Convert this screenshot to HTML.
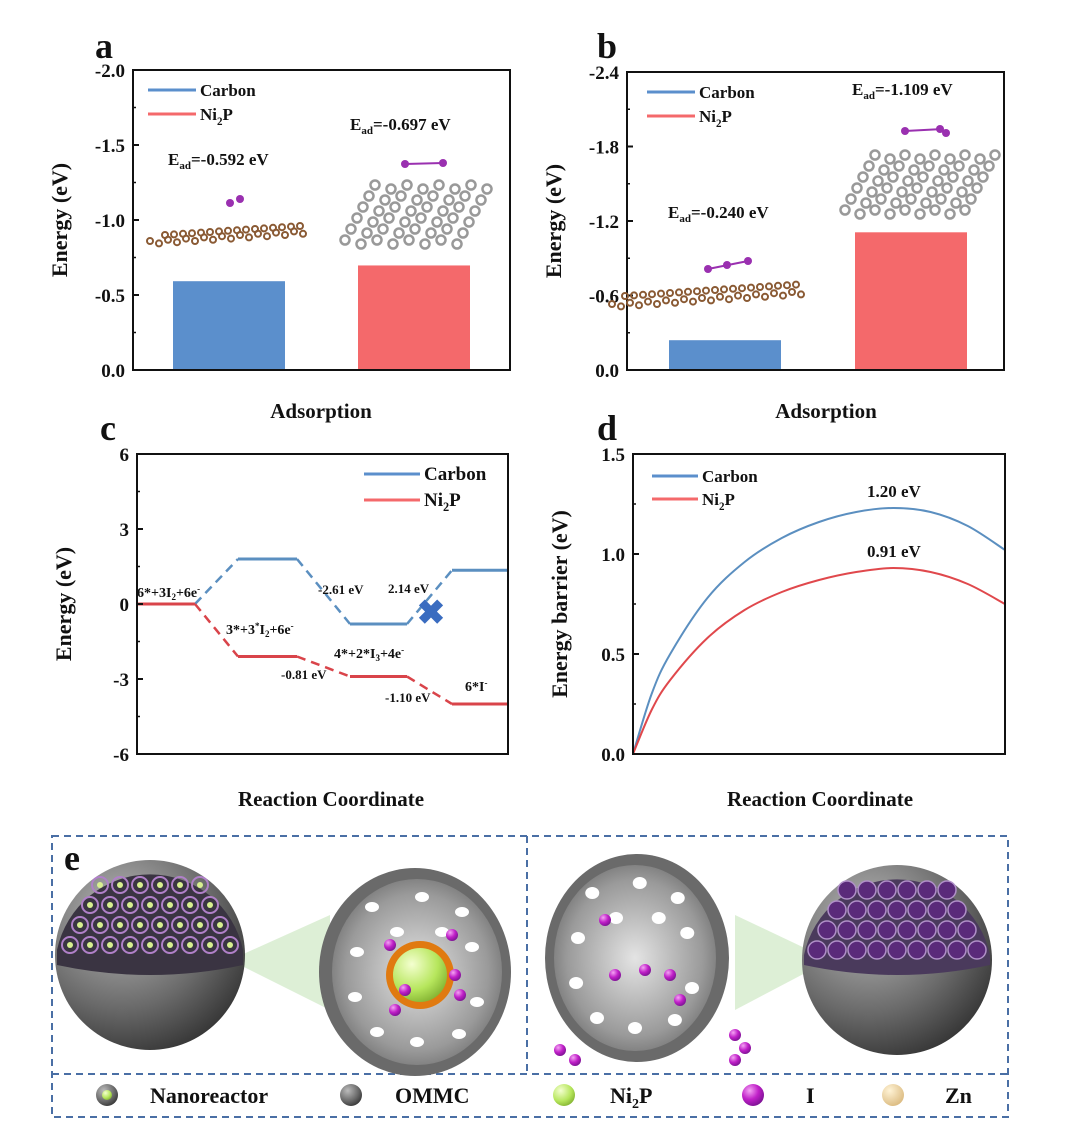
<!DOCTYPE html>
<html><head><meta charset="utf-8"><style>
html,body{margin:0;padding:0;background:#fff}
svg{display:block}
text{font-family:"Liberation Serif",serif;font-weight:bold;fill:#111}
</style></head><body>
<svg id="fig" width="1080" height="1142" viewBox="0 0 1080 1142" xmlns="http://www.w3.org/2000/svg">
<defs>
<radialGradient id="gs" cx="0.35" cy="0.3" r="0.8"><stop offset="0" stop-color="#bbb"/><stop offset="0.6" stop-color="#6a6a6a"/><stop offset="1" stop-color="#2e2e2e"/></radialGradient>
<radialGradient id="gh" cx="0.5" cy="0.5" r="0.6"><stop offset="0" stop-color="#e4e4e4"/><stop offset="0.7" stop-color="#9a9a9a"/><stop offset="1" stop-color="#666"/></radialGradient>
<radialGradient id="gp" cx="0.35" cy="0.3" r="0.8"><stop offset="0" stop-color="#f4a4f4"/><stop offset="0.5" stop-color="#c020c8"/><stop offset="1" stop-color="#70108a"/></radialGradient>
<radialGradient id="gg" cx="0.35" cy="0.3" r="0.8"><stop offset="0" stop-color="#f4ffd0"/><stop offset="0.6" stop-color="#b6e65c"/><stop offset="1" stop-color="#7cab2c"/></radialGradient>
<radialGradient id="gz" cx="0.35" cy="0.3" r="0.8"><stop offset="0" stop-color="#fff3d6"/><stop offset="1" stop-color="#d9b77a"/></radialGradient>
</defs>
<g id="pa"></g>
<g id="pb"></g>
<g id="pc"></g>
<g id="pd"></g>

<g>
<text x="64" y="870" font-size="36">e</text>
<rect x="52" y="836" width="956" height="281" fill="none" stroke="#4a6fa5" stroke-width="2" stroke-dasharray="7,5"/>
<line x1="527" y1="836" x2="527" y2="1075" stroke="#4a6fa5" stroke-width="2" stroke-dasharray="7,5"/>
<line x1="52" y1="1074" x2="1008" y2="1074" stroke="#4a6fa5" stroke-width="2" stroke-dasharray="7,5"/>
<polygon points="230,960 330,915 330,1010" fill="#cfe8c4" opacity="0.7"/>
<polygon points="830,960 735,915 735,1010" fill="#cfe8c4" opacity="0.7"/>
<g>
<circle cx="150" cy="955" r="95" fill="url(#gs)"/>
<path d="M57,950 A95,95 0 0 1 243,950 L243,965 Q150,985 57,965 Z" fill="#3a3442"/>
<g id="dotsL"></g>
</g>
<g>
<ellipse cx="415" cy="972" rx="96" ry="104" fill="#6a6a6a"/>
<ellipse cx="417" cy="972" rx="85" ry="93" fill="url(#gh)"/>
<g id="holesL"></g>
<circle cx="420" cy="975" r="34" fill="#e07a10"/>
<circle cx="420" cy="975" r="27" fill="url(#gg)"/>
</g>
<g>
<ellipse cx="637" cy="958" rx="92" ry="104" fill="#6a6a6a"/>
<ellipse cx="635" cy="958" rx="81" ry="93" fill="url(#gh)"/>
<g id="holesR"></g>
</g>
<g>
<circle cx="897" cy="960" r="95" fill="url(#gs)"/>
<path d="M804,955 A95,95 0 0 1 990,955 L990,965 Q897,985 804,965 Z" fill="#4a3a5c"/>
<g id="dotsR"></g>
</g>
<g id="iatoms"></g>
<g>
<circle cx="107" cy="1095" r="11" fill="url(#gs)"/><circle cx="107" cy="1095" r="5" fill="url(#gg)"/>
<text x="150" y="1103" font-size="22">Nanoreactor</text>
<circle cx="351" cy="1095" r="11" fill="url(#gs)"/>
<text x="395" y="1103" font-size="22">OMMC</text>
<circle cx="564" cy="1095" r="11" fill="url(#gg)"/>
<text x="610" y="1103" font-size="22">Ni<tspan font-size="14" dy="5">2</tspan><tspan dy="-5">P</tspan></text>
<circle cx="753" cy="1095" r="11" fill="url(#gp)"/>
<text x="806" y="1103" font-size="22">I</text>
<circle cx="893" cy="1095" r="11" fill="url(#gz)"/>
<text x="945" y="1103" font-size="22">Zn</text>
</g>
</g>
</svg>
<script>
const NS='http://www.w3.org/2000/svg';
function mk(p,tag,at,txt){const e=document.createElementNS(NS,tag);for(const k in at)e.setAttribute(k,at[k]);if(txt!==undefined)e.textContent=txt;p.appendChild(e);return e;}

// ---- data ----
const barCats=['Carbon','Ni2P'];
const barColors=['#5b8fcc','#f4696b'];
const aValues=[-0.592,-0.697];
const aTicks=[-2.0,-1.5,-1.0,-0.5,0.0];
const bValues=[-0.240,-1.109];
const bTicks=[-2.4,-1.8,-1.2,-0.6,0.0];
const cLevelsCarbon=[0,1.8,-0.8,1.35];
const cLevelsNi2P=[0,-2.1,-2.9,-4.0];
const cTicks=[6,3,0,-3,-6];
const dX=[0,0.05,0.1,0.2,0.3,0.4,0.5,0.6,0.7,0.8,0.9,1.0];
const dCarbon=[0,0.3,0.5,0.78,0.96,1.08,1.16,1.21,1.23,1.21,1.14,1.02];
const dNi2P=[0,0.22,0.37,0.58,0.72,0.81,0.87,0.91,0.93,0.91,0.85,0.75];
const dTicks=[0.0,0.5,1.0,1.5];

function frame(g,x0,y0,x1,y1,ticks,ymap,fmt,ylab,label,lx,ly){
  const r=mk(g,'rect',{x:x0,y:y0,width:x1-x0,height:y1-y0,fill:'none',stroke:'#111','stroke-width':2});
  
  
  ticks.forEach((t,i)=>{const y=ymap(t);
    mk(g,'line',{x1:x0,y1:y,x2:x0+6,y2:y,stroke:'#111','stroke-width':2});
    if(i<ticks.length-1){const ym=ymap((t+ticks[i+1])/2);mk(g,'line',{x1:x0,y1:ym,x2:x0+3,y2:ym,stroke:'#111','stroke-width':1.5});}
    const tl=mk(g,'text',{x:x0-8,y:y+7,'font-size':19,'text-anchor':'end'},fmt(t));
    
    
  });
  const yl=mk(g,'text',{x:0,y:0,'font-size':22,'text-anchor':'middle',transform:`translate(${x0-66},${(y0+y1)/2}) rotate(-90)`},ylab);
  
  
  const pl=mk(g,'text',{x:lx,y:ly,'font-size':36},label);
  
  
}
function legend(g,x,y,fs,len,gap){
  barCats.forEach((c,i)=>{
    const le=mk(g,'g',{});
    
    
    mk(le,'line',{x1:x,y1:y+i*gap,x2:x+len,y2:y+i*gap,stroke:barColors[i],'stroke-width':3});
    const t=mk(le,'text',{x:x+len+4,y:y+i*gap+6,'font-size':fs});
    if(c==='Ni2P'){t.innerHTML='Ni<tspan font-size="'+(fs*0.65)+'" dy="5">2</tspan><tspan dy="-5">P</tspan>';}else t.textContent=c;
  });
}
function ead(g,x,y,val){const t=mk(g,'text',{x:x,y:y,'font-size':17});t.innerHTML='E<tspan font-size="11" dy="4">ad</tspan><tspan dy="-4">='+val+' eV</tspan>';}

// Panel a
(function(){
  const g=document.getElementById('pa');const x0=133,x1=510,y0=70,y1=370;
  const ymap=v=>y1+(v/2.0)*(y1-y0);
  const xs=[173,358];
  aValues.forEach((v,i)=>{const b=mk(g,'rect',{x:xs[i],y:ymap(v),width:112,height:y1-ymap(v),fill:barColors[i]});
    
    });
  frame(g,x0,y0,x1,y1,aTicks,ymap,t=>t.toFixed(1),'Energy (eV)','a',95,58);
  legend(g,148,90,17,48,24);
  mk(g,'text',{x:321,y:418,'font-size':21,'text-anchor':'middle'},'Adsorption');
  ead(g,168,165,'-0.592');ead(g,350,130,'-0.697');
  for(let i=0;i<18;i++){mk(g,'circle',{cx:150+i*9,cy:241-i*0.6+(i%2)*3,r:3,fill:'none',stroke:'#8a5a34','stroke-width':2});}
  for(let i=0;i<16;i++){mk(g,'circle',{cx:165+i*9,cy:235-i*0.6,r:3,fill:'none',stroke:'#8a5a34','stroke-width':2});}
  mk(g,'circle',{cx:230,cy:203,r:4,fill:'#9a30b0'});mk(g,'circle',{cx:240,cy:199,r:4,fill:'#9a30b0'});
  mk(g,'line',{x1:405,y1:164,x2:443,y2:163,stroke:'#9a30b0','stroke-width':2});
  mk(g,'circle',{cx:405,cy:164,r:4,fill:'#9a30b0'});mk(g,'circle',{cx:443,cy:163,r:4,fill:'#9a30b0'});
  for(let j=0;j<8;j++)for(let i=0;i<6;i++)mk(g,'circle',{cx:345+j*16+i*6,cy:240-i*11+(j%2)*4,r:4.5,fill:'none',stroke:'#999','stroke-width':2.5});
})();
// Panel b
(function(){
  const g=document.getElementById('pb');const x0=627,x1=1004,y0=72,y1=370;
  const ymap=v=>y1+(v/2.4)*(y1-y0);
  const xs=[669,855];
  bValues.forEach((v,i)=>{const b=mk(g,'rect',{x:xs[i],y:ymap(v),width:112,height:y1-ymap(v),fill:barColors[i]});
    
    });
  frame(g,x0,y0,x1,y1,bTicks,ymap,t=>t.toFixed(1),'Energy (eV)','b',597,58);
  legend(g,647,92,17,48,24);
  mk(g,'text',{x:826,y:418,'font-size':21,'text-anchor':'middle'},'Adsorption');
  ead(g,668,218,'-0.240');ead(g,852,95,'-1.109');
  for(let i=0;i<22;i++){mk(g,'circle',{cx:612+i*9,cy:304-i*0.6+(i%2)*3,r:3,fill:'none',stroke:'#8a5a34','stroke-width':2});}
  for(let i=0;i<20;i++){mk(g,'circle',{cx:625+i*9,cy:296-i*0.6,r:3,fill:'none',stroke:'#8a5a34','stroke-width':2});}
  mk(g,'line',{x1:708,y1:269,x2:748,y2:261,stroke:'#9a30b0','stroke-width':2});
  [[708,269],[727,265],[748,261]].forEach(p=>mk(g,'circle',{cx:p[0],cy:p[1],r:4,fill:'#9a30b0'}));
  mk(g,'line',{x1:905,y1:131,x2:943,y2:129,stroke:'#9a30b0','stroke-width':2});
  [[905,131],[940,129],[946,133]].forEach(p=>mk(g,'circle',{cx:p[0],cy:p[1],r:4,fill:'#9a30b0'}));
  for(let j=0;j<9;j++)for(let i=0;i<6;i++)mk(g,'circle',{cx:845+j*15+i*6,cy:210-i*11+(j%2)*4,r:4.5,fill:'none',stroke:'#999','stroke-width':2.5});
})();
// Panel c
(function(){
  const g=document.getElementById('pc');const x0=137,x1=508,y0=454,y1=754;
  const ymap=v=>(y0+y1)/2-v*(y1-y0)/12;
  const segX=[[137,195],[238,297],[350,407],[452,508]];
  [[cLevelsCarbon,'#5b8fc0','carbon'],[cLevelsNi2P,'#d9444a','ni2p']].forEach(([L,col,nm])=>{
    L.forEach((v,i)=>{
      const s=mk(g,'line',{x1:segX[i][0],y1:ymap(v),x2:segX[i][1],y2:ymap(v),stroke:col,'stroke-width':3});
      
      
      if(i>0)mk(g,'line',{x1:segX[i-1][1],y1:ymap(L[i-1]),x2:segX[i][0],y2:ymap(v),stroke:col,'stroke-width':2.5,'stroke-dasharray':'9,6'});
    });
  });
  frame(g,x0,y0,x1,y1,cTicks,ymap,t=>String(t),'Energy (eV)','c',100,440);
  const lg=mk(g,'g',{});legend(lg,364,474,19,56,26);
  mk(g,'text',{x:331,y:806,'font-size':21,'text-anchor':'middle'},'Reaction Coordinate');
  const lab=(x,y,h,fs)=>{const t=mk(g,'text',{x:x,y:y,'font-size':fs||14});t.innerHTML=h;};
  lab(137,597,'6*+3I<tspan font-size="9" dy="3">2</tspan><tspan dy="-3">+6e</tspan><tspan font-size="9" dy="-5">-</tspan>');
  lab(226,634,'3*+3<tspan font-size="9" dy="-5">*</tspan><tspan dy="5">I</tspan><tspan font-size="9" dy="3">2</tspan><tspan dy="-3">+6e</tspan><tspan font-size="9" dy="-5">-</tspan>');
  lab(334,658,'4*+2*I<tspan font-size="9" dy="3">3</tspan><tspan dy="-3">+4e</tspan><tspan font-size="9" dy="-5">-</tspan>');
  lab(465,691,'6*I<tspan font-size="9" dy="-5">-</tspan>');
  lab(318,594,'-2.61 eV',13);lab(388,593,'2.14 eV',13);lab(281,679,'-0.81 eV',13);lab(385,702,'-1.10 eV',13);
  const x=mk(g,'text',{x:431,y:624,'font-size':34,'text-anchor':'middle'},'✖');
  
  
  x.style.fill='#3a6cc0';
})();
// Panel d
(function(){
  const g=document.getElementById('pd');const x0=633,x1=1005,y0=454,y1=754;
  const xmap=v=>x0+v*(x1-x0), ymap=v=>y1-v/1.5*(y1-y0);
  function path(Y){const P=dX.map((x,i)=>[xmap(x),ymap(Y[i])]);let d='M'+P[0];
    for(let i=0;i<P.length-1;i++){const p0=P[i-1]||P[i],p1=P[i],p2=P[i+1],p3=P[i+2]||p2;
      d+=` C${p1[0]+(p2[0]-p0[0])/6},${p1[1]+(p2[1]-p0[1])/6} ${p2[0]-(p3[0]-p1[0])/6},${p2[1]-(p3[1]-p1[1])/6} ${p2[0]},${p2[1]}`;}return d;}
  const c1=mk(g,'path',{d:path(dCarbon),fill:'none',stroke:'#5b8fc0','stroke-width':2});
  
  
  const c2=mk(g,'path',{d:path(dNi2P),fill:'none',stroke:'#e0484c','stroke-width':2});
  
  
  frame(g,x0,y0,x1,y1,dTicks,ymap,t=>t.toFixed(1),'Energy barrier (eV)','d',597,440);
  legend(g,652,476,17,46,23);
  mk(g,'text',{x:820,y:806,'font-size':21,'text-anchor':'middle'},'Reaction Coordinate');
  mk(g,'text',{x:867,y:497,'font-size':17},'1.20 eV');
  mk(g,'text',{x:867,y:557,'font-size':17},'0.91 eV');
})();
// decorative panel-e details
(function(){
  const L=document.getElementById('dotsL'),R=document.getElementById('dotsR');
  for(let j=0;j<4;j++)for(let i=0;i<9-j;i++){
    const cx=150+(i-(8-j)/2)*20, cy=945-j*20;
    mk(L,'circle',{cx:cx,cy:cy,r:8,fill:'none',stroke:'#b080c8','stroke-width':2});
    mk(L,'circle',{cx:cx,cy:cy,r:3,fill:'#d8f090'});
    mk(R,'circle',{cx:cx+747,cy:cy+5,r:9,fill:'#5a2a7a',stroke:'#b090c8','stroke-width':1.5});
  }
  const HL=document.getElementById('holesL'),HR=document.getElementById('holesR');
  [[-45,-65],[5,-75],[45,-60],[-60,-20],[55,-25],[-62,25],[60,30],[-40,60],[0,70],[42,62],[-20,-40],[25,-40]].forEach(p=>{
    mk(HL,'ellipse',{cx:417+p[0],cy:972+p[1],rx:7,ry:5,fill:'#fff'});
    mk(HR,'ellipse',{cx:635+p[0]*0.95,cy:958+p[1],rx:7,ry:6,fill:'#fff'});
  });
  const I=document.getElementById('iatoms');
  [[390,945],[405,990],[395,1010],[452,935],[455,975],[460,995],[605,920],[615,975],[645,970],[670,975],[680,1000],[560,1050],[575,1060],[735,1035],[745,1048],[735,1060]].forEach(p=>mk(I,'circle',{cx:p[0],cy:p[1],r:6,fill:'url(#gp)'}));
})();
</script>
</body></html>
